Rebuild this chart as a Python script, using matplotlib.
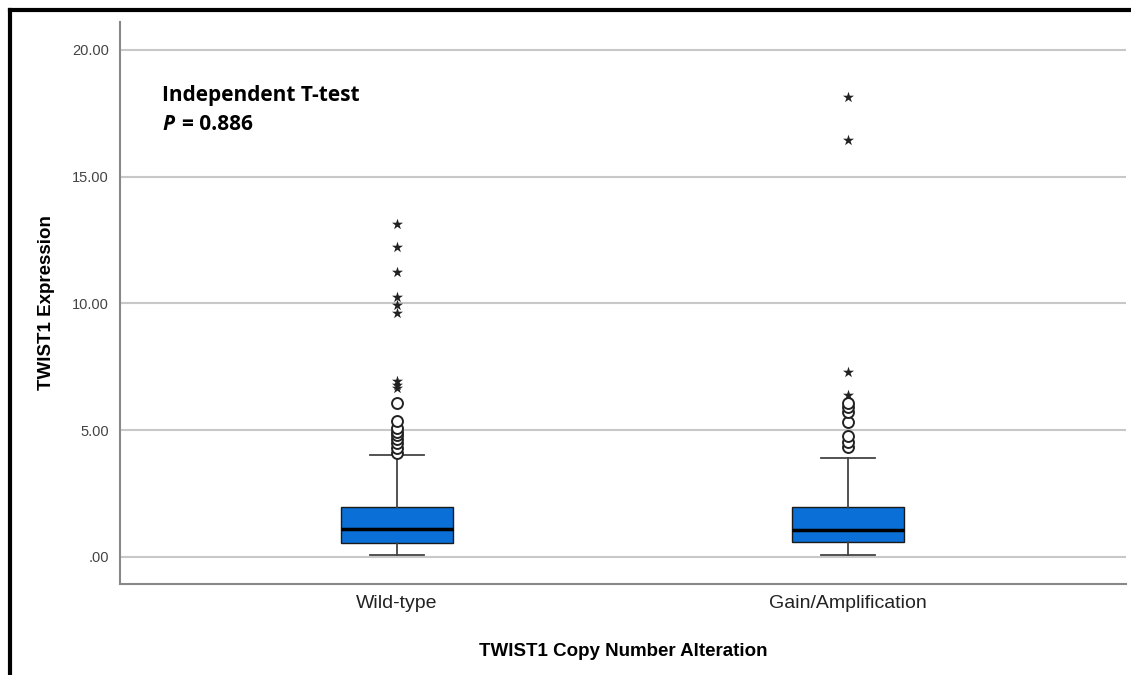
import matplotlib
matplotlib.use("Agg")
from matplotlib import pyplot as plt
from matplotlib.lines import Line2D

# groups on the x axis
groups = ["Wild-type", "Gain/Amplification"]

# box summary per group
medians = [1.10, 1.06]
q1 = [0.56, 0.58]
q3 = [1.98, 1.98]
whisker_low = [0.08, 0.08]
whisker_high = [4.00, 3.92]

# circles = outliers, stars = extreme values
wt_circles = [4.11, 4.29, 4.48, 4.64, 4.81, 4.94, 5.07, 5.38, 6.06]
wt_stars = [6.65, 6.79, 6.92, 9.61, 9.94, 10.27, 11.25, 12.22, 13.14]
gain_circles = [4.35, 4.55, 4.77, 5.34, 5.73, 5.93, 6.09]
gain_stars = [6.39, 7.31, 16.45, 18.16]

yticks = [0, 5, 10, 15, 20]
ytick_labels = [".00", "5.00", "10.00", "15.00", "20.00"]

fig = plt.figure(figsize=(11.31, 6.75), dpi=100)
ax = fig.add_axes([0.1061, 0.1348, 0.8895, 0.8326])

stats = []
for i, name in enumerate(groups):
    stats.append({"label": name, "med": medians[i], "q1": q1[i], "q3": q3[i],
                  "whislo": whisker_low[i], "whishi": whisker_high[i], "fliers": []})

ax.bxp(stats, positions=[1, 2], widths=0.248, patch_artist=True, showfliers=False,
       boxprops=dict(facecolor="#0a6fd6", edgecolor="#1a1a1a", linewidth=1.0),
       medianprops=dict(color="black", linewidth=2.5),
       whiskerprops=dict(color="#444444", linewidth=1.3),
       capprops=dict(color="#444444", linewidth=1.3),
       capwidths=0.12, zorder=3)

circ = dict(marker="o", s=62, facecolors="white", edgecolors="#222222", linewidths=1.4, zorder=4)
star = dict(marker="*", s=70, color="#222222", linewidths=0, zorder=4)
ax.scatter([1] * len(wt_circles), wt_circles, **circ)
ax.scatter([1] * len(wt_stars), wt_stars, **star)
ax.scatter([2] * len(gain_circles), gain_circles, **circ)
ax.scatter([2] * len(gain_stars), gain_stars, **star)

ax.set_xlim(0.386, 2.616)
ax.set_ylim(-1.07, 21.1)
ax.set_yticks(yticks)
ax.set_yticklabels(ytick_labels, fontsize=10.5, color="#444444", family="Liberation Sans")
ax.set_xticks([1, 2])
ax.set_xticklabels(groups, fontsize=14, color="#222222", family="Liberation Sans")
ax.tick_params(length=0, pad=8)
ax.yaxis.grid(True, color="#c8c8c8", linewidth=1.5)
ax.set_axisbelow(True)

for side in ["top", "right"]:
    ax.spines[side].set_visible(False)
for side in ["left", "bottom"]:
    ax.spines[side].set_color("#888888")
    ax.spines[side].set_linewidth(1.5)

ax.set_ylabel("TWIST1 Expression", fontsize=13.5, fontweight="bold", family="Liberation Sans", labelpad=12)
ax.set_xlabel("TWIST1 Copy Number Alteration", fontsize=13.5, fontweight="bold", family="Liberation Sans", labelpad=22)

# annotation
fig.text(162 / 1131, 1 - 95 / 675, "Independent T-test", fontsize=15, fontweight="bold",
         family="Open Sans", va="center", ha="left")
fig.text(162 / 1131, 1 - 125 / 675, "P", fontsize=15, fontweight="bold", style="italic",
         family="Open Sans", va="center", ha="left")
fig.text(182 / 1131, 1 - 125 / 675, "= 0.886", fontsize=15, fontweight="bold",
         family="Open Sans", va="center", ha="left")

# black frame on left and top of the image
fig.add_artist(Line2D([10 / 1131, 10 / 1131], [0, 1 - 10 / 675], color="black", linewidth=3,
                      transform=fig.transFigure))
fig.add_artist(Line2D([10 / 1131, 1], [1 - 10 / 675, 1 - 10 / 675], color="black", linewidth=3,
                      transform=fig.transFigure))

fig.savefig("out.png", dpi=100)
